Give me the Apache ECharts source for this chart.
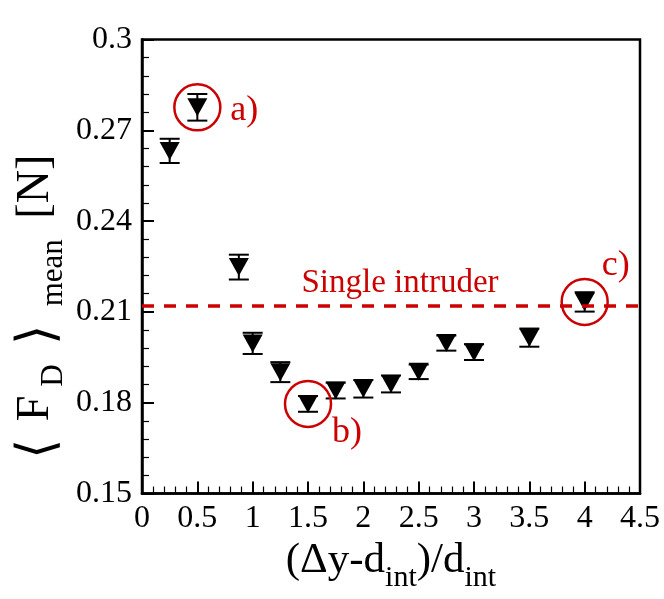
<!DOCTYPE html>
<html>
<head>
<meta charset="utf-8">
<script src="https://cdn.jsdelivr.net/npm/echarts@6/dist/echarts.min.js"></script>
<style>
  html, body { margin: 0; padding: 0; background: #fff; }
  #chart { width: 664px; height: 599px; }
</style>
</head>
<body>
<div id="chart"></div>
<script>
// ---- data ----
const xVals = [0.25, 0.5, 0.875, 1, 1.25, 1.5, 1.75, 2, 2.25, 2.5, 2.75, 3, 3.5, 4];
const fMean = [0.2632, 0.2776, 0.2248, 0.1996, 0.1901, 0.1796, 0.1840, 0.1846, 0.1862, 0.1902, 0.1997, 0.1967, 0.2015, 0.2133];
const fErr  = [0.0040, 0.0044, 0.0041, 0.0035, 0.0033, 0.0026, 0.0026, 0.0029, 0.0028, 0.0024, 0.0025, 0.0026, 0.0030, 0.0032];
const singleIntruder = 0.2120;
const singleLabel = 'Single intruder';
const highlightIdx = [1, 5, 13];
const highlightNames = ['a)', 'b)', 'c)'];

const SERIF = "'Liberation Serif', 'Times New Roman', serif";
const RED = '#cc0000';

const points = xVals.map((x, i) => [x, fMean[i], fErr[i]]);
const labelOffsets = [[47, 3], [39, 29], [31, -36]];
const circles = highlightIdx.map((idx, k) => ({
  value: [xVals[idx], fMean[idx]],
  label: {
    show: true, formatter: highlightNames[k], position: 'inside',
    offset: labelOffsets[k], color: RED, fontSize: 36, fontFamily: SERIF
  }
}));

const chart = echarts.init(document.getElementById('chart'));
chart.setOption({
  animation: false,
  backgroundColor: '#fff',
  grid: { left: 142, right: 24, top: 39.5, bottom: 105.5, show: true, borderColor: '#000', borderWidth: 2.5, backgroundColor: 'transparent' },
  xAxis: {
    type: 'value', min: 0, max: 4.5, interval: 0.5,
    axisLine: { show: true, lineStyle: { color: '#000', width: 2.5 } },
    axisTick: { show: true, inside: true, length: 12, lineStyle: { color: '#000', width: 2 } },
    minorTick: { show: true, splitNumber: 5, length: 7, lineStyle: { color: '#000', width: 1.2 } },
    splitLine: { show: false },
    axisLabel: { color: '#000', fontSize: 32, fontFamily: SERIF, margin: 9,
      formatter: v => String(+v.toFixed(2)) }
  },
  yAxis: {
    type: 'value', min: 0.15, max: 0.3, interval: 0.03,
    axisLine: { show: true, lineStyle: { color: '#000', width: 2.5 } },
    axisTick: { show: true, inside: true, length: 12, lineStyle: { color: '#000', width: 2 } },
    minorTick: { show: true, splitNumber: 5, length: 7, lineStyle: { color: '#000', width: 1.2 } },
    splitLine: { show: false },
    axisLabel: { color: '#000', fontSize: 32, fontFamily: SERIF, margin: 10,
      formatter: v => String(+v.toFixed(2)) }
  },
  graphic: [
    {
      type: 'text', x: 36, y: 312, rotation: Math.PI / 2,
      style: {
        text: '{b|\u27E8}{m|F}{s|D}{b|\u27E9}{s|mean}{m| [N]}',
        align: 'center', verticalAlign: 'middle', fill: '#000',
        rich: {
          b: { fontSize: 52, lineHeight: 46, fontFamily: "'DejaVu Sans', sans-serif", fontWeight: 200, verticalAlign: 'top', padding: [0, 14, 0, 14], fill: '#000' },
          m: { fontSize: 46, lineHeight: 46, fontFamily: SERIF, verticalAlign: 'top', padding: [0, 4, 0, 4], fill: '#000' },
          s: { fontSize: 31, lineHeight: 31, fontFamily: SERIF, verticalAlign: 'top', padding: [25, 5, 0, 5], fill: '#000' }
        }
      }
    },
    {
      type: 'text', x: 391, y: 560,
      style: {
        text: '{m|(\u0394y-d}{s|int}{m|)/d}{s|int}',
        align: 'center', verticalAlign: 'middle', fill: '#000',
        rich: {
          m: { fontSize: 43, lineHeight: 42, fontFamily: SERIF, verticalAlign: 'top', fill: '#000' },
          s: { fontSize: 30, lineHeight: 30, fontFamily: SERIF, verticalAlign: 'top', padding: [24, 0, 0, 0], fill: '#000' }
        }
      }
    }
  ],
  series: [
    {
      type: 'custom',
      z: 2,
      data: points,
      renderItem: function (params, api) {
        const x = api.value(0), y = api.value(1), e = api.value(2);
        const top = api.coord([x, y + e]);
        const bot = api.coord([x, y - e]);
        const hw = 10;
        const st = { stroke: '#000', lineWidth: 2 };
        return {
          type: 'group',
          children: [
            { type: 'line', shape: { x1: top[0], y1: top[1], x2: bot[0], y2: bot[1] }, style: st },
            { type: 'line', shape: { x1: top[0] - hw, y1: top[1], x2: top[0] + hw, y2: top[1] }, style: st },
            { type: 'line', shape: { x1: bot[0] - hw, y1: bot[1], x2: bot[0] + hw, y2: bot[1] }, style: st }
          ]
        };
      }
    },
    {
      type: 'scatter',
      z: 3,
      data: points.map(p => [p[0], p[1]]),
      symbol: 'triangle', symbolRotate: 180, symbolSize: [20, 18],
      itemStyle: { color: '#000', opacity: 1 },
      markLine: {
        silent: true, symbol: ['none', 'none'], precision: 4,
        data: [{ yAxis: singleIntruder }],
        lineStyle: { type: [12, 10], color: RED, width: 3.5 },
        label: { show: true, position: 'middle', formatter: singleLabel, color: RED, fontSize: 33, fontFamily: SERIF, distance: 6, offset: [9, 0] }
      }
    },
    {
      type: 'scatter',
      z: 4,
      data: circles,
      symbol: 'circle', symbolSize: 46,
      itemStyle: { color: 'transparent', borderColor: RED, borderWidth: 2.5, opacity: 1 }
    }
  ]
});
</script>
</body>
</html>
